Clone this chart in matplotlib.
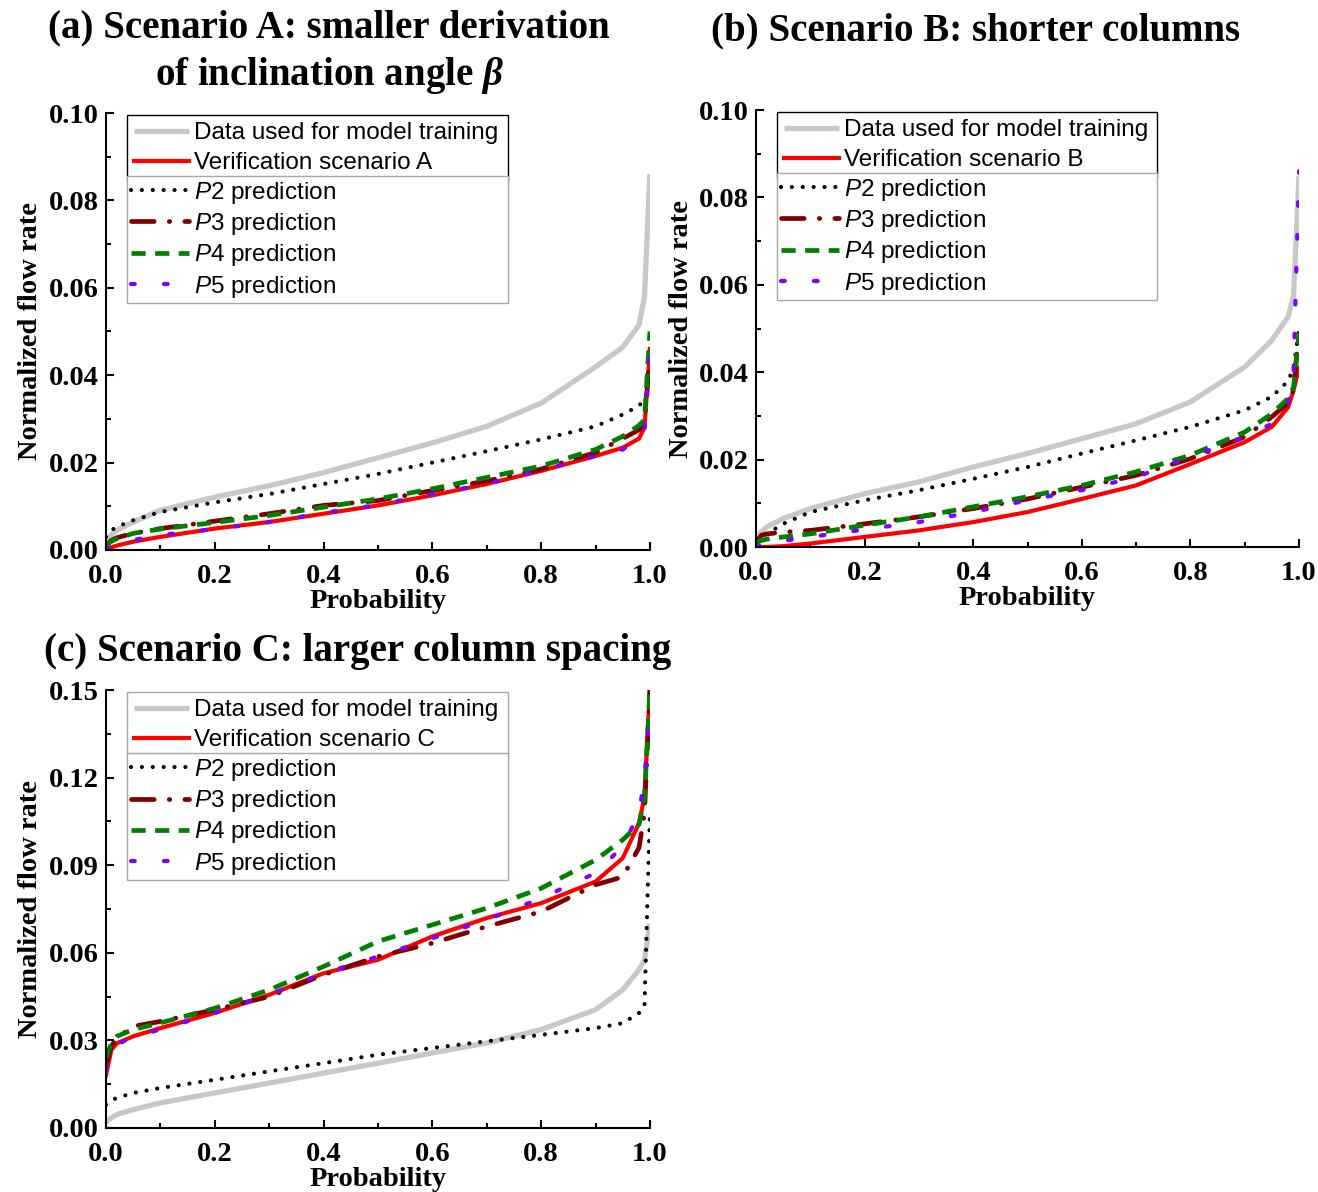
import matplotlib
matplotlib.use("Agg")
import matplotlib.pyplot as plt
from matplotlib.ticker import MultipleLocator, FormatStrFormatter

plt.rcParams["font.family"] = "Liberation Serif"
plt.rcParams["mathtext.fontset"] = "custom"
plt.rcParams["mathtext.rm"] = "Liberation Sans"
plt.rcParams["mathtext.it"] = "Liberation Sans:italic"
plt.rcParams["mathtext.bfit"] = "Liberation Serif:italic:bold"

# cumulative probability grid shared by all curves
prob = [0, 0.01, 0.02, 0.05, 0.1, 0.2, 0.3, 0.4, 0.5, 0.6, 0.7, 0.8, 0.9,
        0.95, 0.98, 0.99, 1.0]

# scenario A
a_train = [0.002, 0.0035, 0.0045, 0.0064, 0.0091, 0.0121, 0.0147, 0.0177, 0.0211,
           0.0245, 0.0283, 0.0336, 0.0419, 0.0464, 0.0515, 0.058, 0.086]
a_verif = [0.000, 0.0006, 0.001, 0.0019, 0.003, 0.0049, 0.0064, 0.0083, 0.0102,
           0.0125, 0.0151, 0.0181, 0.0215, 0.0234, 0.0255, 0.028, 0.046]
a_p2 = [0.003, 0.0045, 0.0053, 0.0068, 0.0087, 0.0109, 0.0128, 0.0151, 0.0174,
        0.020, 0.0226, 0.0253, 0.0283, 0.031, 0.033, 0.0345, 0.037]
a_p3 = [0.001, 0.0022, 0.0028, 0.0038, 0.0049, 0.0066, 0.0083, 0.0102, 0.0113,
        0.0136, 0.0158, 0.0185, 0.0223, 0.0255, 0.0275, 0.0287, 0.045]
a_p4 = [0.001, 0.002, 0.0026, 0.0038, 0.0048, 0.0063, 0.0079, 0.0098, 0.0117,
        0.014, 0.0166, 0.0192, 0.023, 0.026, 0.0285, 0.0298, 0.050]
a_p5 = [0.000, 0.0008, 0.0013, 0.0023, 0.0034, 0.0048, 0.0064, 0.0085, 0.0103,
        0.0128, 0.0151, 0.0183, 0.0215, 0.023, 0.0255, 0.0275, 0.044]

# scenario B
b_train = [0.002, 0.0035, 0.0046, 0.0065, 0.0088, 0.0122, 0.0149, 0.0183, 0.0214,
           0.0248, 0.0282, 0.0332, 0.0412, 0.0473, 0.0527, 0.0576, 0.085]
b_verif = [0.0, 0.0, 0.0, 0.0002, 0.0008, 0.0023, 0.0038, 0.0057, 0.008,
           0.011, 0.0141, 0.019, 0.024, 0.0275, 0.032, 0.0359, 0.041]
b_p2 = [0.002, 0.0025, 0.003, 0.0053, 0.008, 0.0107, 0.013, 0.0156, 0.0183,
        0.0214, 0.0244, 0.0275, 0.0313, 0.0344, 0.038, 0.041, 0.050]
b_p3 = [0.001, 0.0027, 0.003, 0.0034, 0.0038, 0.0053, 0.0069, 0.0088, 0.011,
        0.0137, 0.0164, 0.0202, 0.0252, 0.0298, 0.033, 0.0359, 0.050]
b_p4 = [0.001, 0.0015, 0.0018, 0.0023, 0.003, 0.005, 0.0069, 0.0092, 0.0115,
        0.0141, 0.0172, 0.021, 0.0263, 0.0305, 0.034, 0.0366, 0.049]
b_p5 = [0.0, 0.0005, 0.0008, 0.0014, 0.0023, 0.004, 0.0057, 0.008, 0.0107,
        0.013, 0.016, 0.0206, 0.0252, 0.0282, 0.0328, 0.0405, 0.086]

# scenario C
c_train = [0.002, 0.0035, 0.0046, 0.0063, 0.0086, 0.012, 0.0154, 0.0188, 0.0222,
           0.0257, 0.0291, 0.0337, 0.0405, 0.0473, 0.0542, 0.0576, 0.070]
c_verif = [0.018, 0.0268, 0.029, 0.0314, 0.0342, 0.0394, 0.0456, 0.053, 0.0576,
           0.0656, 0.0719, 0.077, 0.0844, 0.0924, 0.1044, 0.1135, 0.15]
c_p2 = [0.008, 0.0095, 0.0103, 0.012, 0.0137, 0.0165, 0.0194, 0.0222, 0.0251,
        0.0274, 0.0297, 0.0319, 0.0342, 0.0359, 0.0394, 0.0416, 0.108]
c_p3 = [0.022, 0.028, 0.0308, 0.0348, 0.0365, 0.0405, 0.045, 0.0525, 0.0587,
        0.0633, 0.069, 0.0741, 0.0833, 0.086, 0.096, 0.108, 0.15]
c_p4 = [0.024, 0.029, 0.0314, 0.0337, 0.036, 0.041, 0.0473, 0.0553, 0.0639,
        0.0696, 0.0753, 0.0821, 0.0918, 0.0987, 0.104, 0.113, 0.15]
c_p5 = [0.02, 0.026, 0.0285, 0.0314, 0.0337, 0.0394, 0.0456, 0.053, 0.0587,
        0.065, 0.0713, 0.0787, 0.0873, 0.0964, 0.1078, 0.12, 0.143]

pred_labels = [r"$\mathit{P2}$ prediction", r"$\mathit{P3}$ prediction",
               r"$\mathit{P4}$ prediction", r"$\mathit{P5}$ prediction"]


def draw_panel(ax, train, verif, p2, p3, p4, p5, scen, ymax, ystep, top_edge):
    h = []
    h += ax.plot(prob, train, color="#c8c8c8", lw=3.8, solid_capstyle="butt",
                 label="Data used for model training")
    h += ax.plot(prob, verif, color="red", lw=3.0,
                 label="Verification scenario " + scen)
    h += ax.plot(prob, p2, color="black", lw=3.0, ls=(0, (0.01, 2.6)),
                 dash_capstyle="round", label=pred_labels[0])
    h += ax.plot(prob, p3, color="#800000", lw=3.4, ls=(0, (4.8, 3.2, 0.1, 3.2)),
                 dash_capstyle="round", label=pred_labels[1])
    h += ax.plot(prob, p4, color="#008000", lw=3.4, ls=(0, (3, 2)),
                 label=pred_labels[2])
    h += ax.plot(prob, p5, color="#8000ff", lw=3.0, ls=(0, (0.9, 7)),
                 dash_capstyle="round", label=pred_labels[3])

    ax.set_xlim(0, 1)
    ax.set_ylim(0, ymax)
    ax.xaxis.set_major_locator(MultipleLocator(0.2))
    ax.xaxis.set_minor_locator(MultipleLocator(0.1))
    ax.yaxis.set_major_locator(MultipleLocator(ystep))
    ax.yaxis.set_minor_locator(MultipleLocator(ystep / 2))
    ax.xaxis.set_major_formatter(FormatStrFormatter("%.1f"))
    ax.yaxis.set_major_formatter(FormatStrFormatter("%.2f"))
    for s in ["top", "right"]:
        ax.spines[s].set_visible(False)
    for s in ["left", "bottom"]:
        ax.spines[s].set_linewidth(1.5)
    ax.tick_params(which="major", direction="in", length=6, width=1.5,
                   labelsize=20.5)
    ax.tick_params(axis="x", which="major", pad=10)
    ax.tick_params(axis="y", which="major", pad=5)
    ax.tick_params(which="minor", direction="in", length=3.5, width=1.5)
    for lab in ax.get_xticklabels() + ax.get_yticklabels():
        lab.set_fontweight("bold")
    ax.set_xlabel("Probability", fontsize=20.5, fontweight="bold", labelpad=0)
    ax.set_ylabel("Normalized flow rate", fontsize=20.5, fontweight="bold",
                  labelpad=4)

    # two stacked legend boxes: measured/training curves on top, predictions below
    common = dict(loc="upper left", mode="expand", borderaxespad=0,
                  handletextpad=0.2,
                  prop={"family": "Liberation Sans", "size": 17.5},
                  fancybox=False, framealpha=1)
    leg1 = ax.legend(handles=h[:2], bbox_to_anchor=(0.0386, 0, 0.700, 0.996),
                     edgecolor=top_edge, borderpad=0.3, labelspacing=0.33,
                     handlelength=2.25, **common)
    leg1.get_frame().set_linewidth(1.0)
    ax.add_artist(leg1)
    leg2 = ax.legend(handles=h[2:], bbox_to_anchor=(0.0386, 0, 0.700, 0.856),
                     edgecolor="#a8a8a8", borderpad=0.15, labelspacing=0.22,
                     handlelength=2.4, **common)
    leg2.get_frame().set_linewidth(1.0)


fig = plt.figure(figsize=(13.18, 11.92), dpi=100)
ax_a = fig.add_axes([0.0804, 0.5386, 0.4127, 0.3666])
ax_b = fig.add_axes([0.5736, 0.5411, 0.4120, 0.3666])
ax_c = fig.add_axes([0.0804, 0.0537, 0.4127, 0.3674])

draw_panel(ax_a, a_train, a_verif, a_p2, a_p3, a_p4, a_p5, "A", 0.10, 0.02, "black")
draw_panel(ax_b, b_train, b_verif, b_p2, b_p3, b_p4, b_p5, "B", 0.10, 0.02, "black")
draw_panel(ax_c, c_train, c_verif, c_p2, c_p3, c_p4, c_p5, "C", 0.15, 0.03, "#a8a8a8")

title_kw = dict(ha="center", va="center", fontsize=28, fontweight="bold")
fig.text(329 / 1318, 1 - 28 / 1192, "(a) Scenario A: smaller derivation", **title_kw)
fig.text(329 / 1318, 1 - 75 / 1192, r"of inclination angle $\mathbfit{\beta}$", **title_kw)
fig.text(976 / 1318, 1 - 31 / 1192, "(b) Scenario B: shorter columns", **title_kw)
fig.text(358 / 1318, 1 - 651 / 1192, "(c) Scenario C: larger column spacing", **title_kw)

fig.savefig("out.png", dpi=100)
